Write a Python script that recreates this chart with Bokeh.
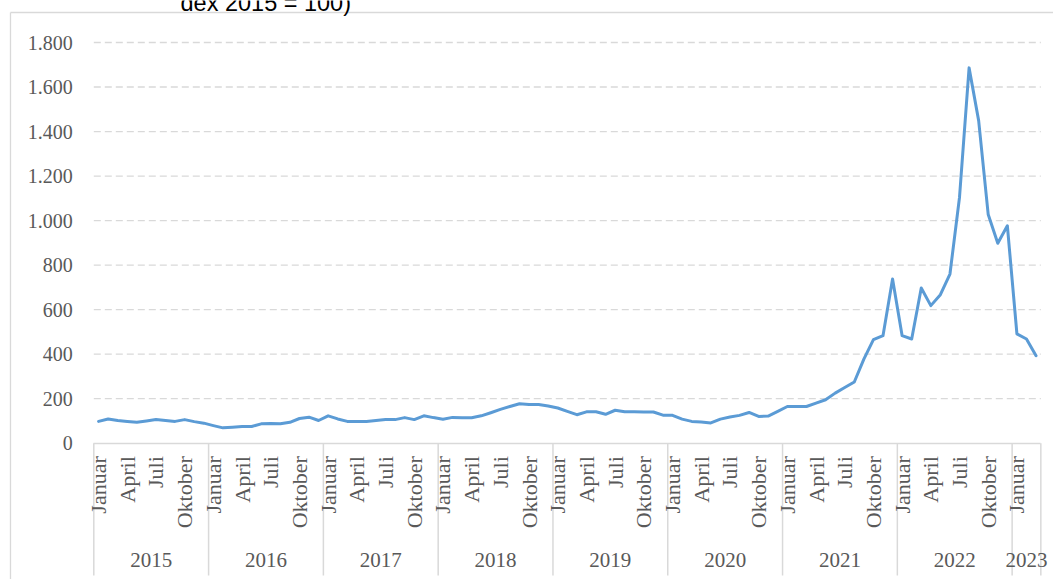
import math
from bokeh.plotting import figure
from bokeh.models import Range1d, FixedTicker, LinearAxis
from bokeh.core.properties import value
from bokeh.embed import file_html
from bokeh.resources import INLINE

# ---------------- data ----------------
years = [2015, 2016, 2017, 2018, 2019, 2020, 2021, 2022, 2023]
month_names = ["Januar", "Februar", "März", "April", "Mai", "Juni", "Juli",
               "August", "September", "Oktober", "November", "Dezember"]
shown_months = ["Januar", "April", "Juli", "Oktober"]
index_values = [
    98, 109, 102, 98, 94, 100, 106, 102, 98, 106, 97, 90,          # 2015
    79, 69, 72, 75, 75, 87, 88, 87, 94, 111, 117, 102,             # 2016
    123, 109, 98, 97, 98, 102, 106, 106, 115, 106, 123, 115,       # 2017
    108, 116, 114, 114, 123, 137, 152, 165, 177, 174, 174, 167,    # 2018
    158, 143, 128, 141, 141, 130, 148, 141, 141, 140, 140, 126,    # 2019
    125, 108, 98, 95, 91, 108, 118, 125, 138, 120, 122, 143,       # 2020
    165, 165, 165, 180, 195, 225, 250, 275, 378, 465, 483, 738,    # 2021
    483, 468, 697, 618, 667, 760, 1105, 1686, 1449, 1027, 898, 977,  # 2022
    491, 468, 393,                                                 # 2023
]
y_ticks = [0, 200, 400, 600, 800, 1000, 1200, 1400, 1600, 1800]
title_text = "dex 2015 = 100)"

# ---------------- layout (pixel geometry of the picture) ----------------
W, H = 1053, 579
n = len(index_values)
X0_PX = 93.3            # left edge of the category axis
PXM = 9.566             # pixels per month
Y0_PX = 442.7           # pixel row of value 0
TOP_PX = 42.0           # pixel row of the top tick value
UPP = (y_ticks[-1] - y_ticks[0]) / (Y0_PX - TOP_PX)   # value units per pixel


def xd(px):
    return -0.5 + (px - X0_PX) / PXM


def yd(py):
    return (Y0_PX - py) * UPP


GREY = "#d9d9d9"
TXT = "#595959"
SERIF = "Liberation Serif"

p = figure(width=W, height=H, output_backend="svg", toolbar_location=None,
           x_range=Range1d(xd(0), xd(W)), y_range=Range1d(yd(H), yd(0)),
           x_axis_location=None, y_axis_location="left",
           min_border=0, min_border_left=0, min_border_right=0,
           min_border_top=0, min_border_bottom=0)
p.outline_line_color = None
p.background_fill_color = "white"
p.border_fill_color = "white"
p.grid.visible = False

# ---- y axis, pinned to the left edge of the plot area ----
ya = p.yaxis[0]
ya.fixed_location = -0.5
ya.ticker = FixedTicker(ticks=y_ticks)
ya.major_label_overrides = {t: f"{t:,}".replace(",", ".") for t in y_ticks}
ya.axis_line_color = None
ya.major_tick_line_color = None
ya.minor_tick_line_color = None
ya.major_tick_out = 0
ya.major_tick_in = 0
ya.major_label_standoff = 21
ya.major_label_text_font = SERIF
ya.major_label_text_font_size = "20px"
ya.major_label_text_color = TXT

# dashed horizontal grid lines (plot-area width only)
gt = y_ticks[1:]
p.segment(x0=[-0.5] * len(gt), y0=gt, x1=[n - 0.5] * len(gt), y1=gt,
          line_color=GREY, line_width=1.3, line_dash="7 4")

# ---- month axis (category level 1) ----
month_of = [month_names[i % 12] for i in range(n)]
lab_idx = [i for i in range(n) if month_of[i] in shown_months]
ma = LinearAxis(fixed_location=0, bounds=(-0.5, n - 0.5),
                ticker=FixedTicker(ticks=lab_idx),
                major_label_overrides={i: month_of[i] for i in lab_idx},
                major_label_orientation=math.pi / 2,
                axis_line_color=GREY, axis_line_width=1.5,
                major_tick_line_color=None, minor_tick_line_color=None,
                major_tick_out=0, major_tick_in=0, major_label_standoff=13,
                major_label_text_font=SERIF, major_label_text_font_size="22px",
                major_label_text_color=TXT)
p.add_layout(ma, "below")

# ---- year axis (category level 2) ----
year_x = []
for yi, yr in enumerate(years):
    s = 12 * yi
    e = min(12 * yi + 11, n - 1)
    year_x.append((s + e) / 2)
yax = LinearAxis(fixed_location=yd(552), bounds=(-0.5, n - 0.5),
                 ticker=FixedTicker(ticks=year_x),
                 major_label_overrides={x: str(y) for x, y in zip(year_x, years)},
                 axis_line_color=None,
                 major_tick_line_color=None, minor_tick_line_color=None,
                 major_tick_out=0, major_tick_in=0, major_label_standoff=0,
                 major_label_text_font=SERIF, major_label_text_font_size="21px",
                 major_label_text_color=TXT)
p.add_layout(yax, "below")

# year separators
bounds = [-0.5 + 12 * i for i in range(len(years))] + [n - 0.5]
p.segment(x0=bounds, y0=[0] * len(bounds), x1=bounds, y1=[yd(575)] * len(bounds),
          line_color=GREY, line_width=1.5)

# ---- series line ----
p.line(list(range(n)), index_values, line_color="#5b9bd5", line_width=3,
       line_join="round", line_cap="round")

# ---- outer chart border (only its top and left edges are in the window) ----
p.segment(x0=[xd(10), xd(10)], y0=[yd(12), yd(12)],
          x1=[xd(W + 10), xd(10)], y1=[yd(12), yd(H + 10)],
          line_color=GREY, line_width=1.3)

# ---- title fragment, cut off at the top edge as in the reference ----
p.text(x=[xd(180)], y=[yd(2)], text=[title_text],
       text_align="left", text_baseline="alphabetic",
       text_font=value("Liberation Sans"), text_font_size="23.5px",
       text_color="#000000")

open("out.html", "w").write(file_html(p, INLINE))
